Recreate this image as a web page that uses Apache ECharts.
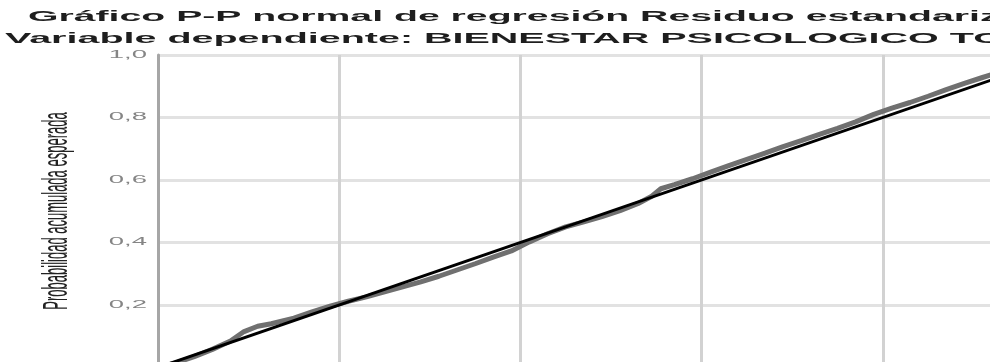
<!DOCTYPE html>
<html>
<head>
<meta charset="utf-8">
<script src="https://cdn.jsdelivr.net/npm/echarts@6/dist/echarts.min.js"></script>
<style>
  html, body { margin: 0; padding: 0; background: #ffffff; }
  #chart { width: 990px; height: 362px; }
</style>
</head>
<body>
<div id="chart"></div>
<script>
// P-P plot of the standardized regression residual
const titleLines = [
  'Gráfico P-P normal de regresión Residuo estandarizado',
  'Variable dependiente: BIENESTAR PSICOLOGICO TOTAL'
];
const yAxisName = 'Probabilidad acumulada esperada';
const yTicks = [0.2, 0.4, 0.6, 0.8, 1.0];

// observed cumulative probability
const obsProb = [0.000, 0.020, 0.040, 0.060, 0.080, 0.095, 0.110, 0.125, 0.150, 0.170,
                 0.190, 0.210, 0.230, 0.250, 0.270, 0.290, 0.310, 0.330, 0.350, 0.370,
                 0.390, 0.410, 0.430, 0.450, 0.470, 0.490, 0.510, 0.530, 0.545, 0.555,
                 0.570, 0.590, 0.610, 0.630, 0.650, 0.670, 0.690, 0.710, 0.730, 0.750,
                 0.770, 0.790, 0.810, 0.830, 0.850, 0.870, 0.890, 0.910, 0.930, 0.960, 1.000];
// expected cumulative probability
const expProb = [0.000, 0.015, 0.035, 0.058, 0.085, 0.115, 0.132, 0.140, 0.158, 0.178,
                 0.196, 0.212, 0.226, 0.242, 0.258, 0.274, 0.292, 0.312, 0.332, 0.353,
                 0.373, 0.402, 0.428, 0.450, 0.466, 0.483, 0.502, 0.525, 0.548, 0.572,
                 0.585, 0.604, 0.625, 0.646, 0.666, 0.686, 0.707, 0.726, 0.746, 0.765,
                 0.786, 0.810, 0.830, 0.848, 0.868, 0.889, 0.909, 0.928, 0.946, 0.970, 1.000];
// reference diagonal
const diagonal = [0, 1];

// visible window of the plot (the panel is cut at the right and bottom)
const xView = [0, 0.9183];
const yView = [0.0176, 1];

const chart = echarts.init(document.getElementById('chart'));

chart.setOption({
  animation: false,
  grid: { left: 158, top: 55, right: 0, bottom: 0 },
  xAxis: {
    type: 'value', min: xView[0], max: xView[1], interval: 0.2,
    axisLine: { show: false }, axisTick: { show: false }, axisLabel: { show: false },
    splitLine: { show: true, showMinLine: false, showMaxLine: false,
                 lineStyle: { color: '#d2d2d2', width: 3 } }
  },
  yAxis: {
    type: 'value', min: yView[0], max: yView[1], splitNumber: 5,
    axisLine: { show: true, onZero: false, lineStyle: { color: '#a6a6a6', width: 3 } },
    axisTick: { show: false }, axisLabel: { show: false },
    splitLine: { show: true, showMinLine: false,
                 lineStyle: { color: '#e2e2e2', width: 3 } }
  },
  series: [
    {
      type: 'line', showSymbol: false, silent: true, z: 2,
      data: obsProb.map((x, i) => [x, expProb[i]]),
      lineStyle: { color: '#707070', width: 5 }
    },
    {
      type: 'line', showSymbol: false, silent: true, z: 3,
      data: diagonal.map(v => [v, v]),
      lineStyle: { color: '#000000', width: 3 }
    }
  ]
});

const graphics = [];
// title lines, drawn wide
graphics.push({
  type: 'text', x: 28, y: 17, scaleX: 2.8,
  style: { text: titleLines[0], font: 'bold 14px "Liberation Sans", Arial, sans-serif',
           fill: '#1e1e1e', textVerticalAlign: 'middle' }
});
graphics.push({
  type: 'text', x: 5, y: 39, scaleX: 2.82,
  style: { text: titleLines[1], font: 'bold 14px "Liberation Sans", Arial, sans-serif',
           fill: '#1e1e1e', textVerticalAlign: 'middle' }
});
// y-axis name, rotated
graphics.push({
  type: 'text', x: 57, y: 211, rotation: Math.PI / 2, scaleY: 2.75,
  style: { text: yAxisName, font: '13px "Liberation Sans", Arial, sans-serif',
           fill: '#222222', textAlign: 'center', textVerticalAlign: 'middle' }
});
// y tick labels with comma decimals
yTicks.forEach(v => {
  const p = chart.convertToPixel({ gridIndex: 0 }, [0, v]);
  graphics.push({
    type: 'text', x: 147, y: p[1], scaleX: 2.75,
    style: { text: v.toFixed(1).replace('.', ','), font: '10px "Liberation Sans", Arial, sans-serif',
             fill: '#858585', textAlign: 'right', textVerticalAlign: 'middle' }
  });
});
chart.setOption({ graphic: graphics });
</script>
</body>
</html>
